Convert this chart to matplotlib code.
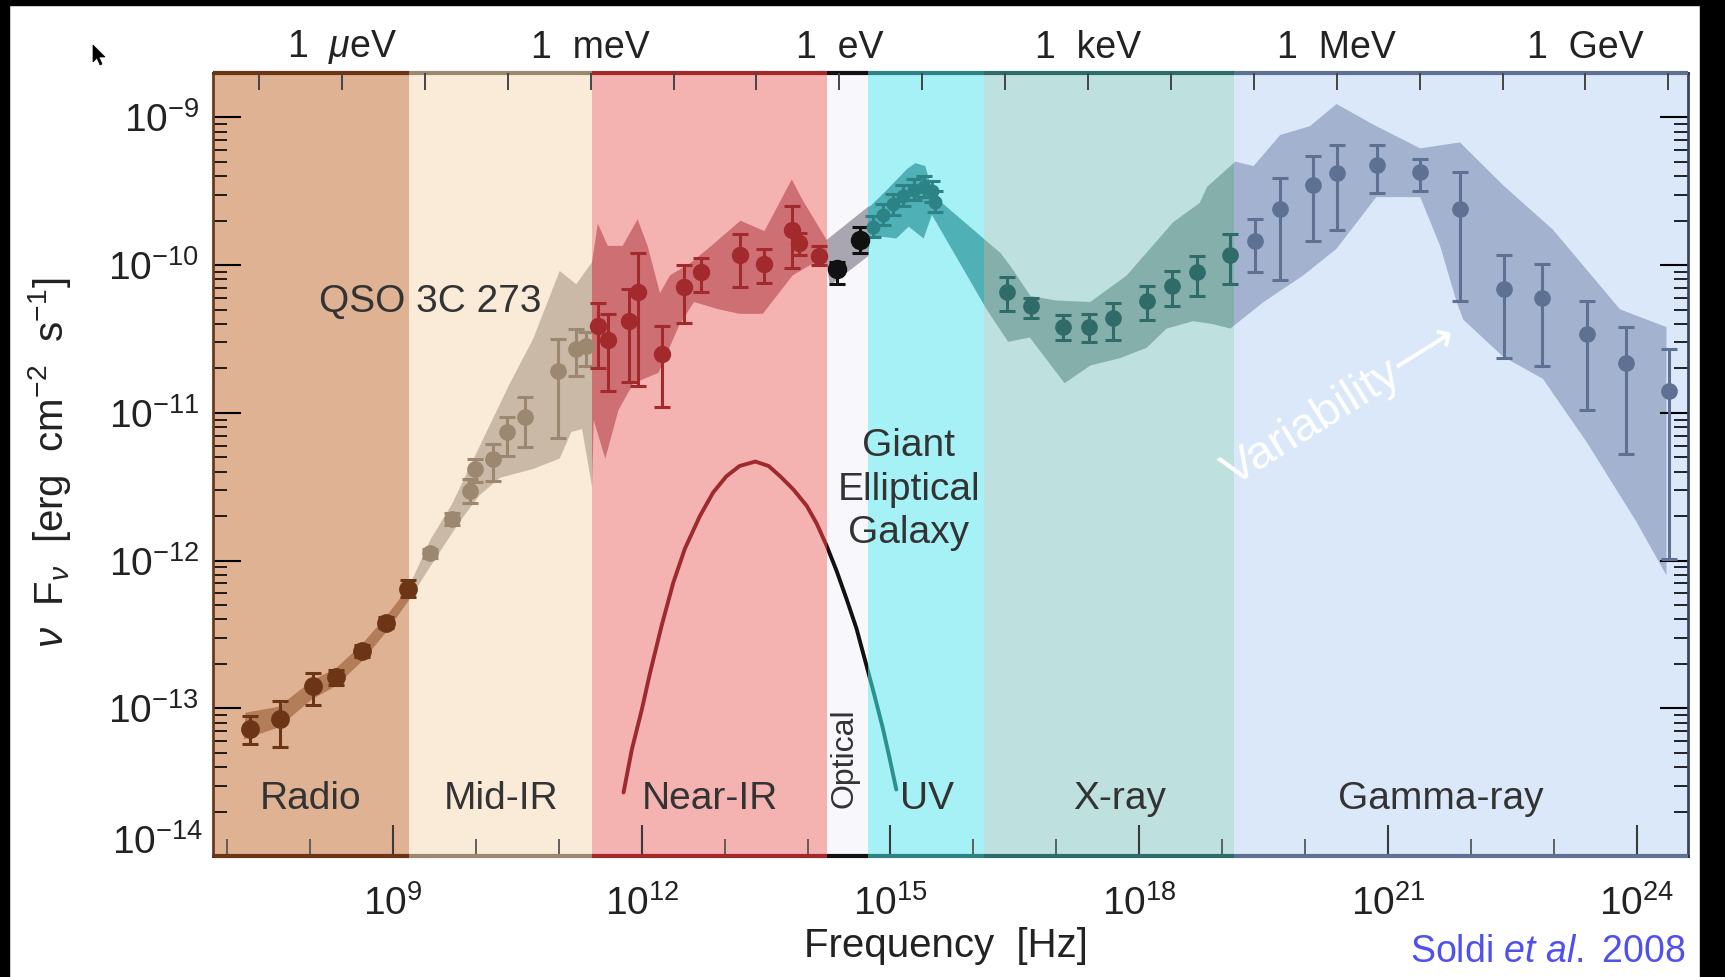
import numpy as np
import matplotlib
matplotlib.use("Agg")
import matplotlib.pyplot as plt
from matplotlib.patches import Rectangle, Polygon
from matplotlib.ticker import FixedLocator, NullLocator, FixedFormatter, NullFormatter

plt.rcParams['font.family'] = ['Liberation Sans', 'DejaVu Sans']
plt.rcParams['mathtext.fontset'] = 'custom'
plt.rcParams['mathtext.rm'] = 'Liberation Sans'
plt.rcParams['mathtext.it'] = 'Liberation Sans:italic'
plt.rcParams['mathtext.bf'] = 'Liberation Sans:bold'
plt.rcParams['mathtext.sf'] = 'Liberation Sans'

# ---------------- spectral bands (log10 frequency in Hz) ----------------
band_names = ["Radio", "Mid-IR", "Near-IR", "Optical", "UV", "X-ray", "Gamma-ray"]
band_edges = [6.828, 9.19, 11.40, 14.23, 14.73, 16.13, 19.14, 24.62]
band_colors = ["#DFB293", "#FAEBD9", "#F4B2B1", "#F8F8FC", "#A5F1F5", "#BEE1DF", "#DAE8F9"]
env_colors = ["#B47D5A", "#C9B9A6", "#CD6F73", "#A9A6B2", "#4FB0B5", "#85AFAB", "#A2B2CF"]
point_colors = ["#6B3516", "#9C8870", "#A2292C", "#111111", "#2C8284", "#2F6B68", "#5E7192"]

# ---------------- QSO 3C 273 measurements: log10(nu), log10(nuFnu) ----------------
radio_nu = [7.28, 7.64, 8.03, 8.31, 8.63, 8.91, 9.18]
radio_f = [-13.14, -13.07, -12.85, -12.79, -12.61, -12.42, -12.19]
radio_hi = [-13.05, -12.95, -12.76, -12.74, -12.57, -12.38, -12.13]
radio_lo = [-13.24, -13.26, -12.98, -12.84, -12.65, -12.46, -12.25]

midir_nu = [9.45, 9.71, 9.93, 9.99, 10.20, 10.37, 10.59, 10.99, 11.21, 11.33]
midir_f = [-11.95, -11.72, -11.53, -11.38, -11.31, -11.13, -11.03, -10.72, -10.57, -10.55]
midir_hi = [-11.92, -11.68, -11.45, -11.31, -11.21, -11.03, -10.89, -10.50, -10.43, -10.45]
midir_lo = [-11.98, -11.76, -11.61, -11.47, -11.46, -11.29, -11.23, -11.17, -10.75, -10.68]

nearir_nu = [11.47, 11.59, 11.85, 11.95, 12.24, 12.51, 12.72, 13.19, 13.47, 13.81, 13.90, 14.14]
nearir_f = [-10.41, -10.51, -10.38, -10.18, -10.60, -10.15, -10.05, -9.93, -9.99, -9.76, -9.85, -9.94]
nearir_hi = [-10.26, -10.33, -10.16, -9.92, -10.41, -10.00, -9.95, -9.79, -9.89, -9.60, -9.78, -9.87]
nearir_lo = [-10.70, -10.85, -10.79, -10.82, -10.96, -10.39, -10.18, -10.15, -10.12, -10.02, -9.93, -10.00]

optical_nu = [14.36, 14.63]
optical_f = [-10.03, -9.83]
optical_hi = [-9.98, -9.74]
optical_lo = [-10.13, -9.92]

uv_nu = [14.79, 14.91, 15.03, 15.15, 15.28, 15.40, 15.50, 15.54]
uv_f = [-9.74, -9.66, -9.59, -9.53, -9.49, -9.47, -9.50, -9.57]
uv_hi = [-9.67, -9.59, -9.52, -9.46, -9.42, -9.40, -9.43, -9.50]
uv_lo = [-9.81, -9.73, -9.66, -9.60, -9.56, -9.54, -9.57, -9.64]

xray_nu = [16.41, 16.70, 17.08, 17.40, 17.69, 18.09, 18.40, 18.70, 19.09]
xray_f = [-10.18, -10.28, -10.42, -10.42, -10.36, -10.24, -10.14, -10.05, -9.93]
xray_hi = [-10.08, -10.22, -10.34, -10.33, -10.26, -10.14, -10.04, -9.94, -9.79]
xray_lo = [-10.31, -10.36, -10.51, -10.52, -10.51, -10.37, -10.28, -10.21, -10.13]

gamma_nu = [19.40, 19.70, 20.10, 20.39, 20.87, 21.39, 21.87, 22.40, 22.86, 23.40, 23.87, 24.39]
gamma_f = [-9.84, -9.62, -9.46, -9.38, -9.32, -9.37, -9.62, -10.16, -10.22, -10.47, -10.66, -10.85]
gamma_hi = [-9.69, -9.41, -9.26, -9.19, -9.19, -9.28, -9.37, -9.93, -9.99, -10.24, -10.42, -10.57]
gamma_lo = [-10.05, -10.10, -9.84, -9.76, -9.51, -9.50, -10.24, -10.63, -10.68, -10.98, -11.28, -11.99]

# variability envelope: upper edge (left to right) and lower edge (right to left)
env_upper_nu = [7.22, 7.62, 8.03, 8.31, 8.62, 8.90, 9.19, 9.45, 9.71, 10.05, 10.41, 10.69,
                11.01, 11.21, 11.40, 11.47, 11.59, 11.77, 11.95, 12.07, 12.22, 12.34, 12.58,
                12.84, 13.19, 13.48, 13.81, 13.93, 14.23, 14.72, 14.76, 14.96, 15.20, 15.30,
                15.42, 15.52, 16.08, 16.33, 16.45, 16.69, 17.00, 17.41, 17.85, 18.41, 18.73,
                18.82, 19.16, 19.38, 19.70, 20.06, 20.38, 20.86, 21.39, 21.87, 22.39, 22.99,
                23.80, 24.36]
env_upper_f = [-13.03, -12.99, -12.81, -12.73, -12.57, -12.39, -12.18, -11.86, -11.62, -11.22,
               -10.80, -10.50, -10.04, -10.13, -9.98, -9.72, -9.87, -9.87, -9.69, -9.87, -10.19,
               -10.07, -9.99, -9.87, -9.70, -9.77, -9.42, -9.55, -9.83, -9.61, -9.60, -9.49,
               -9.35, -9.31, -9.33, -9.53, -9.80, -9.92, -10.01, -10.21, -10.24, -10.25, -10.07,
               -9.71, -9.58, -9.47, -9.30, -9.33, -9.12, -9.06, -8.91, -9.06, -9.21, -9.17,
               -9.46, -9.76, -10.30, -10.42]
env_lower_nu = [24.36, 24.00, 23.40, 22.87, 22.39, 21.91, 21.83, 21.63, 21.39, 20.86, 20.38,
                19.98, 19.50, 19.10, 18.89, 18.65, 18.33, 18.09, 17.77, 17.41, 17.10, 16.68,
                16.42, 16.16, 15.50, 15.40, 15.22, 15.07, 14.76, 14.73, 14.27, 14.23, 14.06,
                13.82, 13.46, 13.18, 12.93, 12.63, 12.45, 12.20, 11.90, 11.72, 11.56, 11.42,
                11.40, 11.28, 11.15, 11.01, 10.69, 10.29, 10.04, 9.80, 9.45, 9.19, 8.91, 8.63,
                8.31, 8.02, 7.62, 7.20]
env_lower_f = [-12.10, -11.74, -11.20, -10.77, -10.62, -10.37, -10.25, -9.87, -9.54, -9.54,
               -9.89, -10.07, -10.25, -10.43, -10.40, -10.38, -10.43, -10.56, -10.63, -10.68,
               -10.80, -10.49, -10.52, -10.30, -9.66, -9.82, -9.74, -9.82, -9.80, -9.94, -10.14,
               -9.99, -9.99, -10.07, -10.33, -10.33, -10.30, -10.25, -10.41, -10.73, -10.80,
               -10.98, -11.31, -11.05, -11.50, -11.11, -11.13, -11.31, -11.38, -11.44, -11.56,
               -11.74, -12.04, -12.27, -12.49, -12.68, -12.85, -12.94, -13.13, -13.21]

# host galaxy (giant elliptical) spectrum
gal_nu = [11.78, 11.88, 12.00, 12.10, 12.24, 12.38, 12.52, 12.70, 12.86, 13.02, 13.18, 13.37,
          13.53, 13.67, 13.83, 13.99, 14.11, 14.23, 14.35, 14.47, 14.59, 14.71, 14.81, 14.91,
          14.99, 15.07]
gal_f = [-13.57, -13.28, -13.01, -12.76, -12.44, -12.15, -11.92, -11.70, -11.54, -11.43,
         -11.36, -11.33, -11.36, -11.43, -11.52, -11.63, -11.75, -11.90, -12.07, -12.26,
         -12.46, -12.71, -12.92, -13.14, -13.34, -13.55]
gal_colors = {2: "#9E2A2E", 3: "#111111", 4: "#2C9090"}

# axis labelling
xtick_exps = [9, 12, 15, 18, 21, 24]
ytick_exps = [-14, -13, -12, -11, -10, -9]
energy_label_exps = [-6, -3, 0, 3, 6, 9]
energy_labels = ["1  $\\mu$eV", "1  meV", "1  eV", "1  keV", "1  MeV", "1  GeV"]
ev_to_hz = 2.417989e14

# ---------------- figure ----------------
W, H = 1725, 977
fig = plt.figure(figsize=(W / 100, H / 100), dpi=100, facecolor="white")
ax = fig.add_axes([213 / W, 1 - 856 / H, (1688 - 213) / W, (856 - 73) / H])
ax.set_xscale("log")
ax.set_yscale("log")
ax.set_xlim(10 ** band_edges[0], 10 ** band_edges[-1])
ax.set_ylim(1e-14, 10 ** -8.70)

text_color = "#333333"
label_color = "#222222"


def band_rect(i):
    lo, hi = 10 ** band_edges[i], 10 ** band_edges[i + 1]
    return Rectangle((lo, 1e-30), hi - lo, 1.0, transform=ax.transData)


# bands
for i in range(len(band_names)):
    ax.axvspan(10 ** band_edges[i], 10 ** band_edges[i + 1], color=band_colors[i], lw=0, zorder=0)

# envelope, tinted per band
px = 10 ** np.concatenate([env_upper_nu, env_lower_nu])
py = 10 ** np.concatenate([env_upper_f, env_lower_f])
for i in range(len(band_names)):
    patch = ax.fill(px, py, color=env_colors[i], lw=0, zorder=1)[0]
    patch.set_clip_path(band_rect(i))

# galaxy curve, coloured per band
gx, gy = 10 ** np.array(gal_nu), 10 ** np.array(gal_f)
for i, c in gal_colors.items():
    ln, = ax.plot(gx, gy, color=c, lw=2.8, zorder=2, solid_capstyle="round")
    ln.set_clip_path(band_rect(i))

# measurements
series = [
    (radio_nu, radio_f, radio_hi, radio_lo, 0, 12.5),
    (midir_nu, midir_f, midir_hi, midir_lo, 1, 11),
    (nearir_nu, nearir_f, nearir_hi, nearir_lo, 2, 11.5),
    (optical_nu, optical_f, optical_hi, optical_lo, 3, 13),
    (uv_nu, uv_f, uv_hi, uv_lo, 4, 9),
    (xray_nu, xray_f, xray_hi, xray_lo, 5, 11),
    (gamma_nu, gamma_f, gamma_hi, gamma_lo, 6, 11),
]
for nu, f, hi, lo, bi, ms in series:
    x = 10 ** np.array(nu)
    y = 10 ** np.array(f)
    yerr = [y - 10 ** np.array(lo), 10 ** np.array(hi) - y]
    c = point_colors[bi]
    ax.errorbar(x, y, yerr=yerr, fmt="o", color=c, ecolor=c, ms=ms, mec=c, mfc=c,
                elinewidth=2.2, capsize=6, capthick=2.2, zorder=3)

# ---------------- axes, ticks ----------------
ax.xaxis.set_major_locator(FixedLocator([10.0 ** e for e in xtick_exps]))
ax.xaxis.set_major_formatter(FixedFormatter(["$10^{%d}$" % e for e in xtick_exps]))
minor_x = [10.0 ** e for e in range(7, 25) if e not in xtick_exps]
ax.xaxis.set_minor_locator(FixedLocator(minor_x))
ax.xaxis.set_minor_formatter(NullFormatter())

ax.yaxis.set_major_locator(FixedLocator([10.0 ** e for e in ytick_exps]))
ylabels = ["" if e == -14 else "$10^{%d}$" % e for e in ytick_exps]
ax.yaxis.set_major_formatter(FixedFormatter(ylabels))
minor_y = [m * 10.0 ** e for e in range(-14, -8) for m in range(2, 10)]
ax.yaxis.set_minor_locator(FixedLocator(minor_y))
ax.yaxis.set_minor_formatter(NullFormatter())

ax.tick_params(axis="x", which="major", direction="in", length=22, width=1.5,
               labelsize=28, pad=21, colors="#3a3a3a", labelcolor=label_color, top=False)
ax.tick_params(axis="x", which="minor", direction="in", length=12, width=1.3,
               colors="#555555", top=False)
ax.tick_params(axis="y", which="major", direction="in", length=20, width=1.5,
               labelsize=28, pad=10, left=True, right=True, labelcolor=label_color)
ax.tick_params(axis="y", which="minor", direction="in", length=10, width=1.2,
               left=True, right=True)
for t in ax.yaxis.get_major_ticks() + ax.yaxis.get_minor_ticks():
    t.tick1line.set_color("#7A4A2A")
    t.tick2line.set_color("#3E4C66")

# lowest y label sits a little above the corner
ax.annotate("$10^{-14}$", xy=(0, 1e-14), xycoords=("axes fraction", "data"),
            xytext=(-7, 9), textcoords="offset points", ha="right", va="center",
            fontsize=28, color=label_color, annotation_clip=False)

for side, c in [("left", "#6B3A1E"), ("right", "#3A4660"), ("top", "#333333"), ("bottom", "#333333")]:
    ax.spines[side].set_color(c)
    ax.spines[side].set_linewidth(2)
# band-tinted strips along top and bottom frame
for i in range(len(band_names)):
    for yy in (0, 1):
        ax.plot([10 ** band_edges[i], 10 ** band_edges[i + 1]], [yy, yy],
                transform=ax.get_xaxis_transform(), color=point_colors[i], lw=3,
                clip_on=False, zorder=6, solid_capstyle="butt")

# energy axis on top
ax2 = ax.twiny()
ax2.set_xscale("log")
ax2.set_xlim(ax.get_xlim())
e_exps = list(range(-7, 11))
ax2.xaxis.set_major_locator(FixedLocator([ev_to_hz * 10.0 ** k for k in e_exps]))
lab_map = dict(zip(energy_label_exps, energy_labels))
ax2.xaxis.set_major_formatter(FixedFormatter([lab_map.get(k, "") for k in e_exps]))
ax2.xaxis.set_minor_locator(NullLocator())
ax2.tick_params(axis="x", which="major", direction="in", length=12, width=1.4,
                colors="#444444", labelcolor=label_color, labelsize=27, pad=5)
for s in ax2.spines.values():
    s.set_visible(False)

# ---------------- annotations ----------------
ax.text(10 ** 8.11, 10 ** -10.32, "QSO 3C 273", fontsize=28, color=text_color,
        ha="left", va="baseline", zorder=4)
band_label_x = [8.00, 10.30, 12.82, None, 15.44, 17.77, 21.64]
for i, name in enumerate(band_names):
    if band_label_x[i] is None:
        continue
    ax.text(10 ** band_label_x[i], 10 ** -13.68, name, fontsize=28, color=text_color,
            ha="center", va="baseline", zorder=4)
ax.text(10 ** 14.45, 10 ** -13.34, "Optical", rotation=90, fontsize=23, color=text_color,
        ha="center", va="center", zorder=4)
ax.text(10 ** 15.22, 10 ** -11.52, "Giant\nElliptical\nGalaxy", fontsize=28,
        color=text_color, ha="center", va="center", multialignment="center",
        linespacing=1.28, zorder=4)
ax.text(10 ** 20.43, 10 ** -10.95, "Variability\u27f6", rotation=32, rotation_mode="anchor",
        fontsize=34, color="white", ha="center", va="center", zorder=4)

fig.text(50 / W, 1 - 463 / H, r"$\nu$  F$_{\nu}$  [erg  cm$^{-2}$  s$^{-1}$]",
         rotation=90, ha="center", va="center", fontsize=29, color=label_color)
fig.text(946 / W, 1 - 946 / H, "Frequency  [Hz]", ha="center", va="center",
         fontsize=29, color=label_color)
fig.text(1686 / W, 1 - 952 / H, r"Soldi $et\ al.$ 2008", ha="right", va="center",
         fontsize=27, color="#5050EE")

# screen frame and pointer
fig.add_artist(Rectangle((0, 0), 9 / W, 1, transform=fig.transFigure, color="black", zorder=20))
fig.add_artist(Rectangle((0, 1 - 5 / H), 1, 5 / H, transform=fig.transFigure, color="black", zorder=20))
fig.add_artist(Rectangle((1700 / W, 0), 25 / W, 1, transform=fig.transFigure, color="black", zorder=20))
cursor_px = [(93, 45), (93, 62), (97, 58), (100, 65), (102, 64), (99, 57), (105, 57)]
fig.add_artist(Polygon([(x / W, 1 - y / H) for x, y in cursor_px], closed=True,
                       transform=fig.transFigure, facecolor="black", edgecolor="black",
                       lw=0.5, zorder=21))

fig.savefig("out.png", dpi=100, facecolor="white")
